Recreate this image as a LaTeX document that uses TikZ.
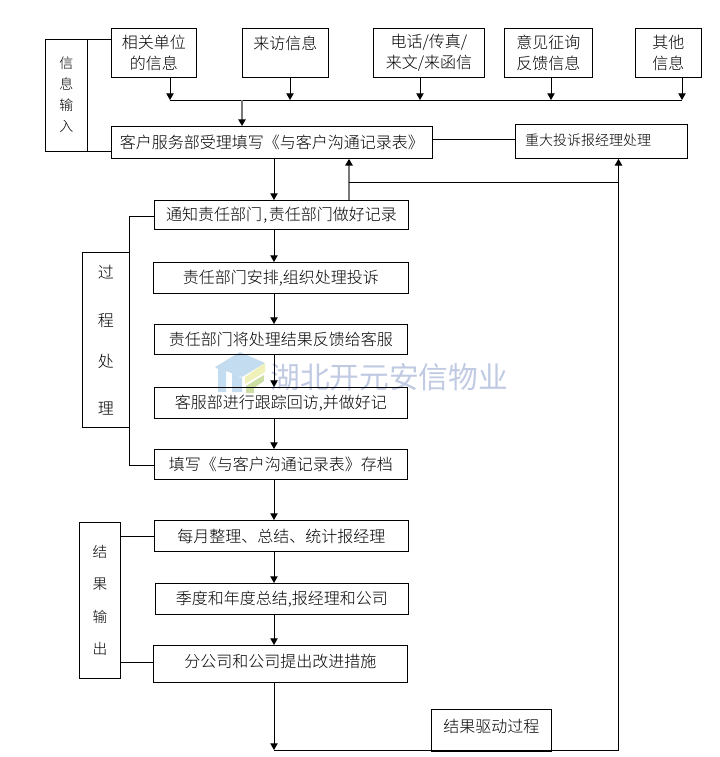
\documentclass[tikz,border=0pt]{standalone}
\usepackage{fontspec}
\setmainfont{Noto Sans CJK SC Light}[BoldFont={Noto Sans CJK SC}]
\usetikzlibrary{arrows.meta}
\definecolor{wmblue}{RGB}{192,202,226}
\definecolor{wmgreen}{RGB}{205,222,165}
\definecolor{wmyellow}{RGB}{240,240,185}
\definecolor{wmsky}{RGB}{196,220,240}
\definecolor{midgray}{RGB}{120,120,120}
\tikzset{
  box/.style={draw=black,line width=.65pt,inner sep=0pt,align=center,font=\fontsize{12}{15.75}\selectfont},
  side/.style={font=\fontsize{10.5}{15.75}\selectfont},
  line/.style={draw=black,line width=.65pt},
  arr/.style={line,-{Triangle[length=5pt,width=5.5pt]}},
  grayarr/.style={draw=midgray,line width=1.1pt,-{Triangle[length=5pt,width=5.5pt,black]}},
}
\newcommand{\bx}[7][]{\node[box,minimum width=#5*.75pt-#3*.75pt,minimum height=#6*.75pt-#4*.75pt,anchor=north west,#1] (#2) at (#3,#4) {#7};}
\begin{document}
\begin{tikzpicture}[x=.75pt,y=-.75pt]
\useasboundingbox (0,0) rectangle (720,757);
% watermark
\node[font=\fontsize{22.3}{24}\selectfont\bfseries,text=wmblue,anchor=west,inner sep=0pt] (wmtext) at (270,377) {湖北开元安信物业};
\fill[wmsky] (215,367) -- (240,352) -- (265,363) -- (242,377) -- (226,371) -- (226,392) -- (218,392) -- (218,369) -- cycle;
\fill[wmsky] (232,372) -- (242,378) -- (242,392) -- (232,392) -- cycle;
\fill[wmyellow] (265,363) -- (265,372) -- (245,384) -- (245,377) -- cycle;
\fill[wmgreen] (246,386) -- (264,375) -- (264,381) -- (254,388) -- (254,393) -- (246,393) -- cycle;
% input
\bx{in1}{111}{28}{196}{77}{相关单位\\的信息}
\bx{in2}{242}{28}{328}{77}{来访信息\\\mbox{}}
\bx{in3}{373}{28}{484}{77}{电话/传真/\\来文/来函信}
\bx{in4}{504}{28}{592}{77}{意见征询\\反馈信息}
\bx{in5}{635}{28}{701}{77}{其他\\信息}
\bx[side]{inp}{45}{39}{87}{151}{\raisebox{4.5pt}{\begin{tabular}{@{}c@{}}信\\息\\输\\入\end{tabular}}}
\bx{svc}{111}{126}{432}{158}{客户服务部受理填写《与客户沟通记录表》}
\bx[side,text width=114.5pt,align=left]{maj}{515}{124}{687}{158}{\raisebox{3pt}{重大投诉报经理处理}}
% process
\bx{s1}{154}{200}{408}{229}{通知责任部门\kern1pt,\kern1pt责任部门做好记录}
\bx{s2}{153}{262}{408}{293}{责任部门安排,组织处理投诉}
\bx{s3}{154}{324}{407}{354}{责任部门将处理结果反馈给客服}
\bx{s4}{154}{387}{407}{418}{客服部进行跟踪回访,并做好记}
\bx{s5}{154}{449}{407}{479}{填写《与客户沟通记录表》存档}
\bx{proc}{82}{252}{129}{427}{过\\[20.75pt]程\\[14.75pt]处\\[19.25pt]理}
% result
\bx{r1}{154}{520}{408}{551}{每月整理、总结、统计报经理}
\bx{r2}{155}{583}{408}{614}{季度和年度总结,报经理和公司}
\bx{r3}{153}{645}{407}{682}{\raisebox{4.5pt}{分公司和公司提出改进措施}}
\bx[font=\fontsize{11}{16}\selectfont]{res}{79}{522}{120}{678}{结\\[8.4pt]果\\[8.4pt]输\\[8.4pt]出}
\bx{drv}{431}{709}{551}{751}{\raisebox{7.5pt}{结果驱动过程}}
% named points
\coordinate (b1) at (170,100); \coordinate (b2) at (290,100); \coordinate (b3) at (420,100);
\coordinate (b4) at (551,100); \coordinate (b5) at (682,100); \coordinate (b0) at (242,100);
\coordinate (up) at (349,182); \coordinate (ri) at (618.5,182);
\coordinate (bl) at (274,750); \coordinate (br) at (618.5,750);
% bus
\draw[line] (b1) -- (b5);
\draw[arr] (in1.south -| b1) -- (b1);
\draw[arr] (in2.south -| b2) -- (b2);
\draw[arr] (in3.south -| b3) -- (b3);
\draw[arr] (in4.south -| b4) -- (b4);
\draw[arr] (in5.south -| b5) -- (b5);
\draw[grayarr] (b0) -- (b0 |- svc.north);
% side brackets
\draw[line] (inp.north east) -- (inp.north east -| in1.west);
\draw[line] (inp.south east) -- (inp.south east -| svc.west);
\draw[line] (svc.east |- 0,139) -- (maj.west |- 0,139);
\draw[line] (s1.west |- 0,216) -| (proc.north east);
\draw[line] (proc.south east) |- (s5.west |- 0,465);
\draw[line] (res.east |- 0,536) -- (r1.west |- 0,536);
\draw[line] (res.east |- 0,662) -- (r3.west |- 0,662);
% main flow
\draw[arr] (bl |- svc.south) -- (bl |- s1.north);
\draw[grayarr] (up |- s1.north) -- (up |- svc.south);
\draw[line] (up) -- (ri);
\draw[arr] (bl |- s1.south) -- (bl |- s2.north);
\draw[arr] (bl |- s2.south) -- (bl |- s3.north);
\draw[arr] (bl |- s3.south) -- (bl |- s4.north);
\draw[arr] (bl |- s4.south) -- (bl |- s5.north);
\draw[arr] (bl |- s5.south) -- (bl |- r1.north);
\draw[arr] (bl |- r1.south) -- (bl |- r2.north);
\draw[arr] (bl |- r2.south) -- (bl |- r3.north);
\draw[arr] (bl |- r3.south) -- (bl);
\draw[line] (bl) -- (br);
\draw[arr] (br) -- (br |- maj.south);
\end{tikzpicture}
\end{document}
